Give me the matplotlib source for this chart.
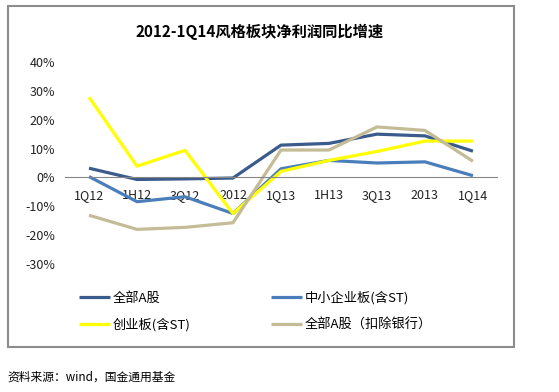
import matplotlib
matplotlib.use("Agg")
import matplotlib.pyplot as plt
from matplotlib.patches import Rectangle
from matplotlib.ticker import FuncFormatter

plt.rcParams['font.family'] = ['Noto Sans CJK SC', 'DejaVu Sans']

# 报告期
periods = ['1Q12', '1H12', '3Q12', '2012', '1Q13', '1H13', '3Q13', '2013', '1Q14']

# 净利润同比增速 (%)
all_a = [3.2, -0.7, -0.5, -0.2, 11.2, 11.8, 15.0, 14.4, 9.1]
sme = [0.3, -8.4, -6.7, -12.5, 3.0, 5.9, 5.0, 5.4, 0.6]
chinext = [27.8, 3.9, 9.4, -12.5, 2.1, 5.9, 9.0, 12.6, 12.6]
all_a_ex_bank = [-13.1, -18.0, -17.3, -15.7, 9.5, 9.5, 17.5, 16.3, 5.6]

series = [
    ('全部A股', all_a, '#3B5B8C'),
    ('中小企业板(含ST)', sme, '#4A7EBB'),
    ('创业板(含ST)', chinext, '#FFFF00'),
    ('全部A股（扣除银行）', all_a_ex_bank, '#C4BC96'),
]

fig = plt.figure(figsize=(5.59, 3.92), dpi=100)
ax = fig.add_axes([0.1163, 0.3265, 0.7727, 0.5153])

x = list(range(len(periods)))
lines = {}
for name, vals, col in series:
    lines[name], = ax.plot(x, vals, color=col, lw=2.3, label=name, solid_capstyle='butt')

ax.set_xlim(-0.5, len(periods) - 0.5)
ax.set_ylim(-30, 40)
ax.set_yticks(range(-30, 41, 10))
ax.yaxis.set_major_formatter(FuncFormatter(lambda v, p: f'{int(v)}%'))
ax.tick_params(axis='y', length=0, labelsize=9, colors='#222222', pad=7)

# 类别轴位于 0 处
ax.spines['bottom'].set_position(('data', 0))
ax.spines['bottom'].set_color('#868686')
for s in ['top', 'right', 'left']:
    ax.spines[s].set_visible(False)
ax.set_xticks(x)
ax.set_xticklabels(periods)
ax.tick_params(axis='x', length=0, labelsize=9, colors='#222222', pad=8)

fig.text(0.465, 0.918, '2012-1Q14风格板块净利润同比增速', ha='center', va='center',
         fontsize=11, fontweight='bold')

# 图例按行排列：先全部A股、中小企业板，再创业板、扣除银行
order = ['全部A股', '创业板(含ST)', '中小企业板(含ST)', '全部A股（扣除银行）']
fig.legend([lines[k] for k in order], order, loc='upper left',
           bbox_to_anchor=(0.142, 0.258), ncol=2, frameon=False,
           fontsize=9.5, handlelength=2.3, handletextpad=0.25, columnspacing=6.1,
           labelspacing=1.05, borderaxespad=0, borderpad=0)

fig.patches.append(Rectangle((0.0143, 0.1148), 0.9052, 0.8699, transform=fig.transFigure,
                             fill=False, edgecolor='#8C8C8C', lw=1.5))

fig.text(0.014, 0.038, '资料来源：wind，国金通用基金', ha='left', va='center', fontsize=8.5)

fig.savefig('out.png', dpi=100)
